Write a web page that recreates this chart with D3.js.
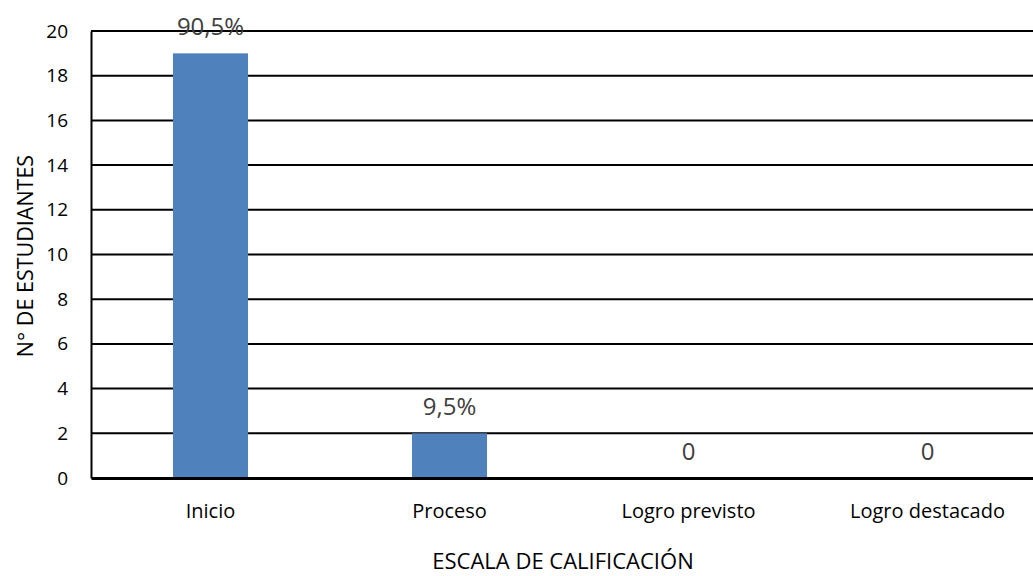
<!DOCTYPE html>
<html>
<head>
<meta charset="utf-8">
<script src="https://cdn.jsdelivr.net/npm/d3@7"></script>
<style>
  html, body { margin: 0; padding: 0; background: #fff; }
  svg { display: block; font-family: "Open Sans", "Noto Sans", sans-serif; }
</style>
</head>
<body>
<svg id="chart" width="1033" height="576"></svg>
<script>
// Student counts per grading level
const categories = ["Inicio", "Proceso", "Logro previsto", "Logro destacado"];
const counts = [19, 2, 0, 0];
const valueLabels = ["90,5%", "9,5%", "0", "0"];
const yTicks = [0, 2, 4, 6, 8, 10, 12, 14, 16, 18, 20];

const fontStack = '"Open Sans", "Noto Sans", sans-serif';
const svg = d3.select("#chart");
const plotLeft = 91, plotTop = 31, plotBottom = 478, step = 239;
const plotRight = plotLeft + step * categories.length;

const x = d3.scaleBand().domain(categories).range([plotLeft, plotRight])
  .paddingInner(0.686).paddingOuter(0.343);
const y = d3.scaleLinear().domain([0, 20]).range([plotBottom, plotTop]);

// horizontal gridlines
svg.append("g").selectAll("line").data(yTicks.filter(d => d > 0)).join("line")
  .attr("x1", plotLeft).attr("x2", plotRight)
  .attr("y1", d => y(d)).attr("y2", d => y(d))
  .attr("stroke", "#000").attr("stroke-width", 2);

// bars
svg.append("g").selectAll("rect").data(counts).join("rect")
  .attr("x", (d, i) => x(categories[i]))
  .attr("width", x.bandwidth())
  .attr("y", d => y(d))
  .attr("height", d => y(0) - y(d))
  .attr("fill", "#4f81bd");

// value labels
svg.append("g").selectAll("text").data(counts).join("text")
  .attr("x", (d, i) => x(categories[i]) + x.bandwidth() / 2)
  .attr("y", d => y(d) - 18)
  .attr("text-anchor", "middle")
  .attr("font-size", 24)
  .attr("fill", "#404040")
  .text((d, i) => valueLabels[i]);

// y axis
const yAxis = svg.append("g").attr("transform", `translate(${plotLeft},0)`)
  .call(d3.axisLeft(y).tickValues(yTicks).tickSize(0).tickPadding(23));
yAxis.select(".domain").attr("stroke", "#000").attr("stroke-width", 2);
yAxis.selectAll("text").attr("font-size", 19).attr("fill", "#000")
  .style("font-family", fontStack);

// x axis
const xAxis = svg.append("g").attr("transform", `translate(0,${plotBottom})`)
  .call(d3.axisBottom(x).tickSize(0).tickPadding(26));
xAxis.select(".domain").attr("stroke", "#000").attr("stroke-width", 3);
xAxis.selectAll("text").attr("font-size", 20).attr("fill", "#000")
  .style("font-family", fontStack);

// axis titles
svg.append("text")
  .attr("x", 563).attr("y", 569)
  .attr("text-anchor", "middle")
  .attr("font-size", 22).attr("fill", "#000")
  .text("ESCALA DE CALIFICACIÓN");

svg.append("text")
  .attr("transform", "translate(33,256) rotate(-90)")
  .attr("text-anchor", "middle")
  .attr("font-size", 21.5).attr("fill", "#000")
  .text("N° DE ESTUDIANTES");
</script>
</body>
</html>
